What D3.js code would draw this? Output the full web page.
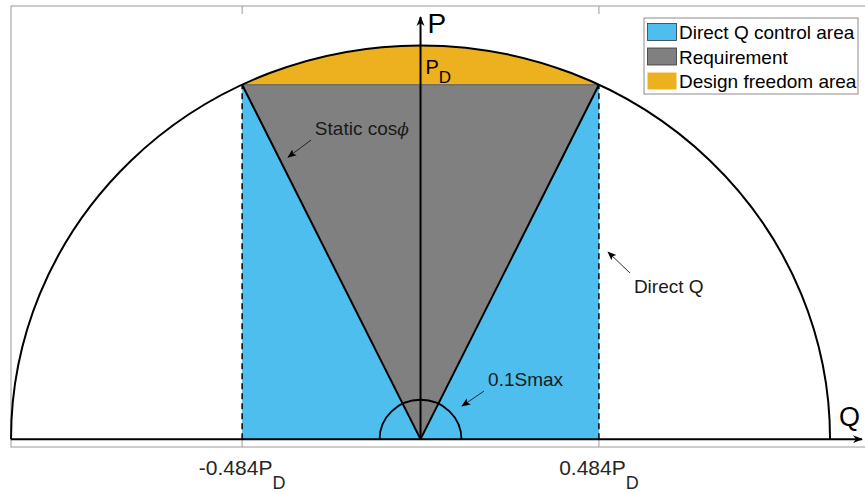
<!DOCTYPE html>
<html>
<head>
<meta charset="utf-8">
<script src="https://cdn.jsdelivr.net/npm/d3@7"></script>
<style>
  html, body { margin: 0; padding: 0; background: #fff; }
  svg { display: block; font-family: "Liberation Sans", Arial, Helvetica, sans-serif; }
</style>
</head>
<body>
<svg id="chart" width="865" height="492"></svg>
<script>
// values (per unit of Smax)
const smax = 1;
const pd = 0.9;              // design active power
const qFactor = 0.484;       // Q limit as fraction of PD
const innerRadius = 0.1;     // 0.1 Smax
const tickLabels = ['-0.484', '0.484'];
const legendLabels = ['Direct Q control area', 'Requirement', 'Design freedom area'];
const legendColors = ['#4DBEEE', '#808080', '#EDB120'];
const annotationTexts = ['Static cos', 'Direct Q', '0.1Smax'];

const svg = d3.select('#chart');
const x = d3.scaleLinear().domain([-1, 1.1]).range([11, 871]);
const y = d3.scaleLinear().domain([-0.02, 1.1]).range([447, 6]);

const qLim = qFactor * pd;
const rx = x(smax) - x(0), ry = y(0) - y(smax);

const defs = svg.append('defs');
defs.append('marker').attr('id', 'axhead').attr('viewBox', '0 0 10 10')
  .attr('refX', 9).attr('refY', 5).attr('markerWidth', 10).attr('markerHeight', 10)
  .attr('markerUnits', 'userSpaceOnUse').attr('orient', 'auto')
  .append('path').attr('d', 'M0,1 L10,5 L0,9 L3,5 Z').attr('fill', '#000');
defs.append('marker').attr('id', 'annhead').attr('viewBox', '0 0 10 10')
  .attr('refX', 9).attr('refY', 5).attr('markerWidth', 9).attr('markerHeight', 9)
  .attr('markerUnits', 'userSpaceOnUse').attr('orient', 'auto')
  .append('path').attr('d', 'M0,1 L10,5 L0,9 L2,5 Z').attr('fill', '#000');

// axes box
svg.append('rect').attr('x', x(-1)).attr('y', y(1.1)).attr('width', x(1.1) - x(-1)).attr('height', y(-0.02) - y(1.1))
  .attr('fill', 'none').attr('stroke', '#9a9a9a').attr('stroke-width', 1);

// Direct Q control area
svg.append('rect').attr('x', x(-qLim)).attr('y', y(pd)).attr('width', x(qLim) - x(-qLim)).attr('height', y(0) - y(pd))
  .attr('fill', legendColors[0]);

// design freedom area (between circle and PD)
svg.append('path')
  .attr('d', `M${x(-qLim)},${y(pd)} A${rx},${ry} 0 0 1 ${x(qLim)},${y(pd)} Z`)
  .attr('fill', legendColors[2]);

// requirement triangle
svg.append('path')
  .attr('d', d3.line()([[x(0), y(0)], [x(-qLim), y(pd)], [x(qLim), y(pd)]]) + 'Z')
  .attr('fill', legendColors[1]);
svg.append('line').attr('x1', x(-qLim)).attr('x2', x(qLim)).attr('y1', y(pd)).attr('y2', y(pd))
  .attr('stroke', '#5a5a5a').attr('stroke-width', 1);
[-qLim, qLim].forEach(q => {
  svg.append('line').attr('x1', x(0)).attr('y1', y(0)).attr('x2', x(q)).attr('y2', y(pd))
    .attr('stroke', '#000').attr('stroke-width', 2);
  svg.append('line').attr('x1', x(q)).attr('y1', y(0)).attr('x2', x(q)).attr('y2', y(pd))
    .attr('stroke', '#000').attr('stroke-width', 1.5).attr('stroke-dasharray', '6,4');
});

// Smax semicircle
svg.append('path')
  .attr('d', `M${x(-smax)},${y(0)} A${rx},${ry} 0 0 1 ${x(smax)},${y(0)}`)
  .attr('fill', 'none').attr('stroke', '#000').attr('stroke-width', 2);

// 0.1 Smax semicircle
const irx = x(innerRadius) - x(0), iry = y(0) - y(innerRadius);
svg.append('path')
  .attr('d', `M${x(-innerRadius)},${y(0)} A${irx},${iry} 0 0 1 ${x(innerRadius)},${y(0)}`)
  .attr('fill', 'none').attr('stroke', '#000').attr('stroke-width', 1.8);

// ticks on box
tickLabels.forEach((t, i) => {
  const q = i === 0 ? -qLim : qLim;
  svg.append('line').attr('x1', x(q)).attr('x2', x(q)).attr('y1', y(1.1)).attr('y2', y(1.1) + 8).attr('stroke', '#9a9a9a');
  svg.append('line').attr('x1', x(q)).attr('x2', x(q)).attr('y1', y(-0.02)).attr('y2', y(-0.02) - 8).attr('stroke', '#9a9a9a');
  const tx = svg.append('text').attr('x', x(q)).attr('y', 475).attr('text-anchor', 'middle')
    .attr('font-size', 21).attr('fill', '#262626');
  tx.append('tspan').text(t + 'P');
  tx.append('tspan').attr('dy', 14).attr('font-size', 18).text('D');
});

// axes arrows
svg.append('line').attr('x1', x(-1)).attr('y1', y(0)).attr('x2', x(1.078)).attr('y2', y(0))
  .attr('stroke', '#000').attr('stroke-width', 2).attr('marker-end', 'url(#axhead)');
svg.append('line').attr('x1', x(0)).attr('y1', y(0)).attr('x2', x(0)).attr('y2', y(1.072))
  .attr('stroke', '#000').attr('stroke-width', 2).attr('marker-end', 'url(#axhead)');
svg.append('text').attr('x', x(0) + 7).attr('y', 33).attr('font-size', 28).text('P');
svg.append('text').attr('x', 839).attr('y', 426).attr('font-size', 27).text('Q');

// PD label
const pdl = svg.append('text').attr('x', x(0) + 5).attr('y', y(pd) - 11).attr('font-size', 20);
pdl.append('tspan').text('P');
pdl.append('tspan').attr('dy', 9).attr('font-size', 17).text('D');

// annotations
const ann = [
  { text: annotationTexts[0], tx: -0.258, ty: 0.772, from: [-0.2674, 0.7596], to: [-0.3236, 0.716], phi: true },
  { text: annotationTexts[1], tx: 0.521, ty: 0.371, from: [0.5116, 0.4218], to: [0.4579, 0.4752] },
  { text: annotationTexts[2], tx: 0.165, ty: 0.135, from: [0.155, 0.122], to: [0.1013, 0.084] }
];
ann.forEach(a => {
  const t = svg.append('text').attr('x', x(a.tx)).attr('y', y(a.ty)).attr('font-size', 19).attr('fill', '#1a1a1a');
  t.append('tspan').text(a.text);
  if (a.phi) t.append('tspan').attr('font-style', 'italic').attr('font-family', 'DejaVu Serif, serif').attr('font-size', 17).text('ϕ');
  svg.append('line').attr('x1', x(a.from[0])).attr('y1', y(a.from[1])).attr('x2', x(a.to[0])).attr('y2', y(a.to[1]))
    .attr('stroke', '#1a1a1a').attr('stroke-width', 0.9).attr('marker-end', 'url(#annhead)');
});

// legend
const lg = svg.append('g').attr('transform', 'translate(644,18)');
lg.append('rect').attr('width', 214).attr('height', 76).attr('fill', '#fff').attr('stroke', '#8c8c8c').attr('stroke-width', 1);
legendLabels.forEach((l, i) => {
  const row = lg.append('g').attr('transform', `translate(3,${14 + i * 24.5})`);
  row.append('rect').attr('x', 0.5).attr('y', -8.5).attr('width', 29).attr('height', 17)
    .attr('fill', legendColors[i]).attr('stroke', i < 2 ? '#333' : 'none').attr('stroke-width', 0.8);
  row.append('text').attr('x', 32).attr('y', 7).attr('font-size', 19).attr('fill', '#000').text(l);
});
</script>
</body>
</html>
